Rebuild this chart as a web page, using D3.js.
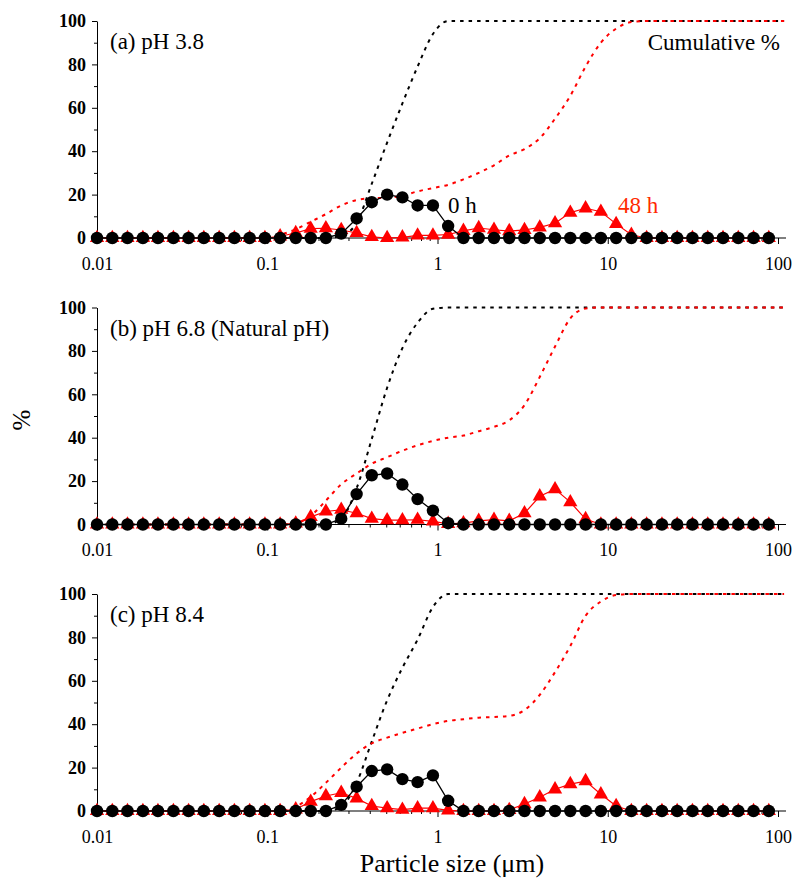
<!DOCTYPE html>
<html>
<head>
<meta charset="utf-8">
<script src="https://cdn.jsdelivr.net/npm/d3@7/dist/d3.min.js"></script>
<style>
  body { margin: 0; background: #fff; }
  svg text { font-family: "Liberation Serif", "Times New Roman", serif !important; }
</style>
</head>
<body>
<svg id="chart" width="794" height="881"></svg>
<script>
// particle size classes (um); the last one is only used by the cumulative curves
var sizes = [0.0100, 0.0123, 0.0151, 0.0186, 0.0228, 0.0281, 0.0345, 0.0424, 0.0522, 0.0641,
  0.0788, 0.0969, 0.119, 0.147, 0.180, 0.221, 0.272, 0.335, 0.411, 0.506,
  0.622, 0.764, 0.940, 1.155, 1.420, 1.746, 2.147, 2.639, 3.243, 3.987,
  4.902, 6.027, 7.409, 9.109, 11.20, 13.76, 16.92, 20.81, 25.57, 31.44,
  38.66, 47.53, 58.43, 71.83, 88.30, 108.6];

// (a) pH 3.8
var a0h = [0, 0, 0, 0, 0, 0, 0, 0, 0, 0, 0, 0, 0, 0, 0, 0,
  2, 9, 16.5, 20, 18.7, 15, 15, 5.5,
  0, 0, 0, 0, 0, 0, 0, 0, 0, 0, 0, 0, 0, 0, 0, 0, 0, 0, 0, 0, 0];
var a48h = [0, 0, 0, 0, 0, 0, 0, 0, 0, 0, 0, 0,
  0.8, 2.3, 4.3, 4.5, 3.7, 2.3, 0.5, 0, 0.3, 1.2, 1.2, 1.6, 3.3, 4.6, 3.8, 3.2, 3.7, 4.9,
  6.8, 11.7, 13.7, 12.1, 6.5, 1.5,
  0, 0, 0, 0, 0, 0, 0, 0, 0];
var aCum0 = [0, 0, 0, 0, 0, 0, 0, 0, 0, 0, 0, 0, 0, 0, 0, 0,
  1, 7, 25, 44, 62, 79, 94,
  100, 100, 100, 100, 100, 100, 100, 100, 100, 100, 100, 100, 100, 100, 100, 100, 100, 100, 100, 100, 100, 100, 100];
var aCum48 = [0, 0, 0, 0, 0, 0, 0, 0, 0, 0, 0, 0,
  1.5, 4, 7.5, 11, 15, 17.5, 18.3, 18.5, 19.5, 21.5, 23, 24.5, 27, 30, 33.5, 38, 41, 46,
  55, 65.5, 79, 90, 96.5, 99.5,
  100, 100, 100, 100, 100, 100, 100, 100, 100, 100];

// (b) pH 6.8
var b0h = [0, 0, 0, 0, 0, 0, 0, 0, 0, 0, 0, 0, 0, 0, 0, 0,
  2.7, 14, 22.7, 23.5, 18.4, 11.7, 6.4, 0.6,
  0, 0, 0, 0, 0, 0, 0, 0, 0, 0, 0, 0, 0, 0, 0, 0, 0, 0, 0, 0, 0];
var b48h = [0, 0, 0, 0, 0, 0, 0, 0, 0, 0, 0, 0, 0,
  0.5, 3.5, 6, 6.8, 5.2, 2.7, 2, 2, 2.2, 1.4, 0.3, 0.6, 1.7, 2.2, 1.7, 5.2, 13,
  16.3, 10.3, 2.5,
  0, 0, 0, 0, 0, 0, 0, 0, 0, 0, 0, 0];
var bCum0 = [0, 0, 0, 0, 0, 0, 0, 0, 0, 0, 0, 0, 0, 0, 0, 0,
  2.7, 16.7, 39.4, 63, 81.3, 93, 99.4,
  100, 100, 100, 100, 100, 100, 100, 100, 100, 100, 100, 100, 100, 100, 100, 100, 100, 100, 100, 100, 100, 100, 100];
var bCum48 = [0, 0, 0, 0, 0, 0, 0, 0, 0, 0, 0, 0, 0,
  0.5, 4, 11, 18.5, 23.5, 28, 31, 34, 36.5, 38.5, 40, 41, 43, 45, 48, 55, 68,
  82, 95, 99.5,
  100, 100, 100, 100, 100, 100, 100, 100, 100, 100, 100, 100, 100];

// (c) pH 8.4
var c0h = [0, 0, 0, 0, 0, 0, 0, 0, 0, 0, 0, 0, 0, 0, 0, 0,
  2.8, 11.2, 18.4, 19.2, 14.7, 13.3, 16.4, 4.7,
  0, 0, 0, 0, 0, 0, 0, 0, 0, 0, 0, 0, 0, 0, 0, 0, 0, 0, 0, 0, 0];
var c48h = [0, 0, 0, 0, 0, 0, 0, 0, 0, 0, 0, 0, 0,
  0.8, 4.3, 6.9, 8.4, 5.8, 2.3, 1.3, 0.6, 1.3, 1.3, 0.3, 0, 0, 0, 0.5, 3.2, 6.3,
  10, 12.4, 13.8, 7.7, 2.3,
  0, 0, 0, 0, 0, 0, 0, 0, 0, 0];
var cCum0 = [0, 0, 0, 0, 0, 0, 0, 0, 0, 0, 0, 0, 0, 0, 0, 0,
  2, 13, 32, 51, 66, 79, 94,
  100, 100, 100, 100, 100, 100, 100, 100, 100, 100, 100, 100, 100, 100, 100, 100, 100, 100, 100, 100, 100, 100, 100];
var cCum48 = [0, 0, 0, 0, 0, 0, 0, 0, 0, 0, 0, 0, 0,
  2, 6.5, 13, 20, 26.5, 31.2, 33.8, 36, 38, 40, 41.5, 42.3, 43, 43.3, 43.8, 46.5, 53.5,
  64, 76, 90, 96.5, 99.5,
  100, 100, 100, 100, 100, 100, 100, 100, 100, 100, 100];

var panelTitles = ['(a) pH 3.8', '(b) pH 6.8 (Natural pH)', '(c) pH 8.4'];
var yTicks = [0, 20, 40, 60, 80, 100];
var yMinor = [10, 30, 50, 70, 90];
var xTicks = [0.01, 0.1, 1, 10, 100];
var xTickLabels = ['0.01', '0.1', '1', '10', '100'];

var red = '#ff0000';
var serif = '"Liberation Serif", "Times New Roman", serif';
var svg = d3.select('#chart');

var x = d3.scaleLog().domain([0.01, 100]).range([97, 778]);
var xEnd = 786;
var panelTop = [21, 307.5, 594];
var panelH = 217;

var xMinor = x.ticks().filter(function (v) {
  return xTicks.indexOf(v) < 0 && v > 0.01 && v < 100;
});

var panels = [
  { title: panelTitles[0], f0: a0h, f48: a48h, c0: aCum0, c48: aCum48 },
  { title: panelTitles[1], f0: b0h, f48: b48h, c0: bCum0, c48: bCum48 },
  { title: panelTitles[2], f0: c0h, f48: c48h, c0: cCum0, c48: cCum48 }
];

panels.forEach(function (p, k) {
  var top = panelTop[k];
  var y = d3.scaleLinear().domain([0, 100]).range([top + panelH, top]);
  var g = svg.append('g');

  // y axis
  var ya = g.append('g').attr('transform', 'translate(' + x.range()[0] + ',0)')
    .call(d3.axisLeft(y).tickValues(yTicks).tickSize(5).tickSizeOuter(0).tickPadding(6));
  ya.attr('font-family', serif);
  ya.selectAll('text').style('font-family', serif).style('font-size', '18px')
    .style('font-weight', 'bold').attr('fill', '#000');
  g.append('g').attr('transform', 'translate(' + x.range()[0] + ',0)')
    .call(d3.axisLeft(y).tickValues(yMinor).tickSize(3).tickFormat(''))
    .select('.domain').remove();

  // x axis
  var xa = g.append('g').attr('transform', 'translate(0,' + y(0) + ')')
    .call(d3.axisBottom(x).tickValues(xTicks).tickSize(6).tickPadding(13)
      .tickFormat(function (d, i) { return xTickLabels[i]; }));
  xa.attr('font-family', serif);
  xa.select('.domain').remove();
  xa.selectAll('text').style('font-family', serif).style('font-size', '18px').attr('fill', '#000');
  g.append('g').attr('transform', 'translate(0,' + y(0) + ')')
    .call(d3.axisBottom(x).tickValues(xMinor).tickSize(3).tickFormat(''))
    .select('.domain').remove();
  g.append('line')
    .attr('x1', x.range()[0]).attr('x2', xEnd)
    .attr('y1', y(0)).attr('y2', y(0))
    .attr('stroke', '#000').attr('stroke-width', 1.2);
  g.selectAll('.tick line').attr('stroke', '#000');

  // cumulative curves
  var cumLine = d3.line()
    .x(function (d, i) { return Math.min(x(sizes[i]), xEnd); })
    .y(function (d) { return y(d); })
    .curve(d3.curveMonotoneX);
  g.append('path').datum(p.c0)
    .attr('d', cumLine).attr('fill', 'none')
    .attr('stroke', '#000').attr('stroke-width', 2).attr('stroke-dasharray', '3.5,5');
  g.append('path').datum(p.c48)
    .attr('d', cumLine).attr('fill', 'none')
    .attr('stroke', red).attr('stroke-width', 2).attr('stroke-dasharray', '3.5,5');

  var freqLine = d3.line()
    .x(function (d, i) { return x(sizes[i]); })
    .y(function (d) { return y(d); });

  // 48 h
  g.append('path').datum(p.f48)
    .attr('d', freqLine).attr('fill', 'none')
    .attr('stroke', red).attr('stroke-width', 1.2);
  g.selectAll('.tri').data(p.f48).enter()
    .append('path')
    .attr('d', d3.symbol().type(d3.symbolTriangle).size(88))
    .attr('transform', function (d, i) { return 'translate(' + x(sizes[i]) + ',' + y(d) + ')'; })
    .attr('fill', red);

  // 0 h
  g.append('path').datum(p.f0)
    .attr('d', freqLine).attr('fill', 'none')
    .attr('stroke', '#000').attr('stroke-width', 1.3);
  g.selectAll('.dot').data(p.f0).enter()
    .append('circle')
    .attr('cx', function (d, i) { return x(sizes[i]); })
    .attr('cy', function (d) { return y(d); })
    .attr('r', 6.2)
    .attr('fill', '#000');

  g.append('text')
    .attr('x', 110).attr('y', top + 28)
    .style('font-size', '23px')
    .text(p.title);
});

// annotations in panel (a)
svg.append('text').attr('x', 780).attr('y', 50).attr('text-anchor', 'end')
  .style('font-size', '23px').text('Cumulative %');
svg.append('text').attr('x', 448).attr('y', 213)
  .style('font-size', '23px').text('0 h');
svg.append('text').attr('x', 618).attr('y', 213)
  .style('font-size', '23px').attr('fill', '#ff2a00').text('48 h');

// axis titles
svg.append('text')
  .attr('transform', 'translate(30,420) rotate(-90)')
  .attr('text-anchor', 'middle')
  .style('font-size', '25px')
  .text('%');
svg.append('text')
  .attr('x', 452).attr('y', 872)
  .attr('text-anchor', 'middle')
  .style('font-size', '26px')
  .text('Particle size (\u03bcm)');
</script>
</body>
</html>
